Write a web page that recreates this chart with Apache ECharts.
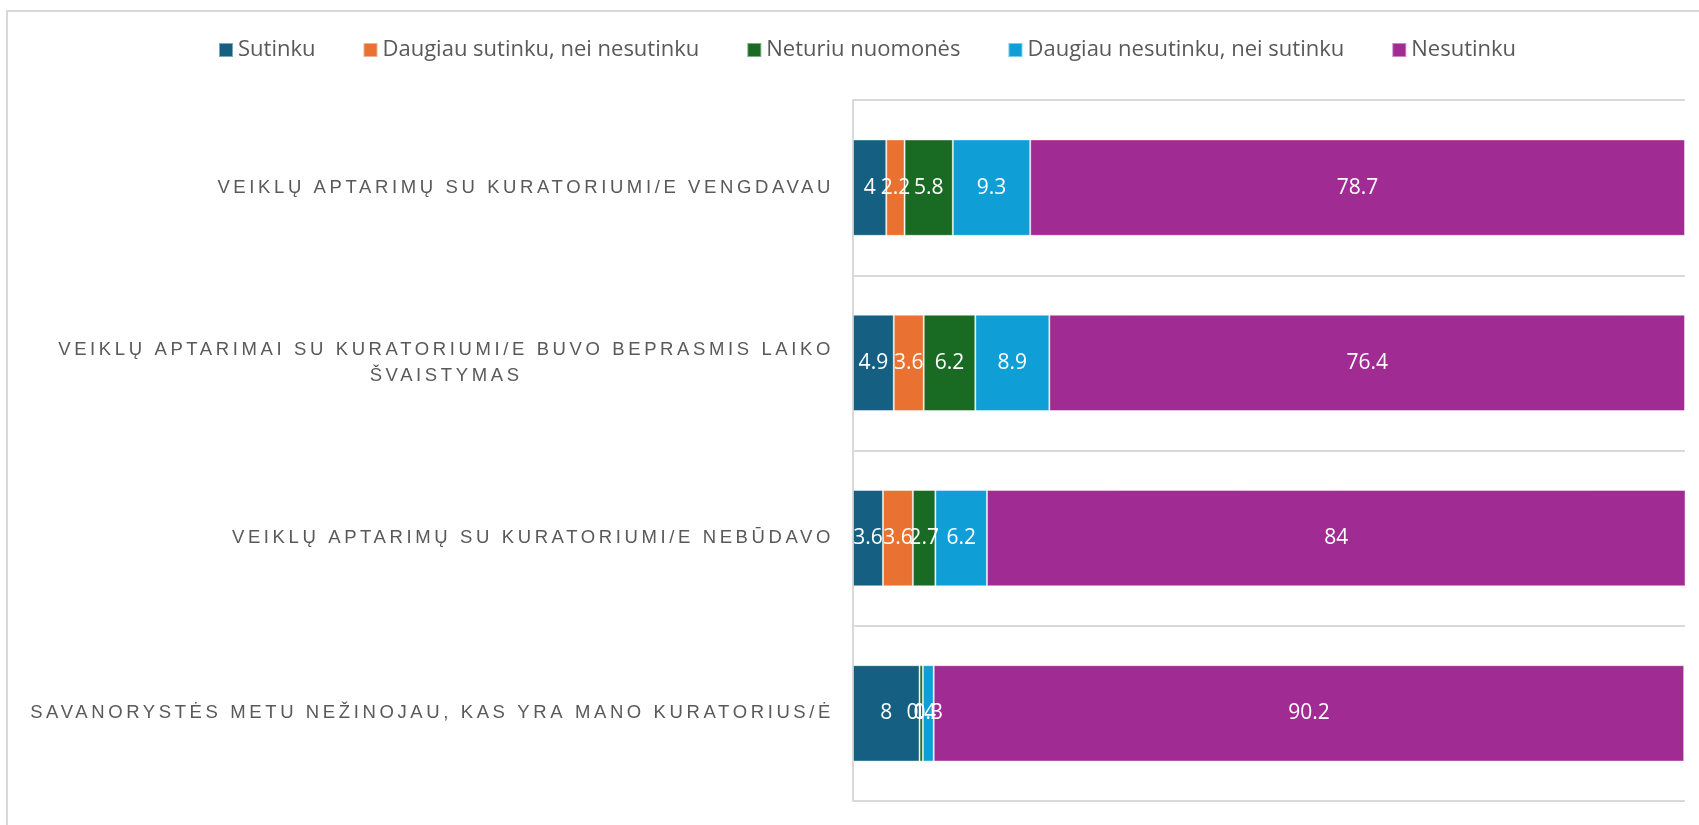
<!DOCTYPE html>
<html>
<head>
<meta charset="utf-8">
<script src="https://cdn.jsdelivr.net/npm/echarts@6/dist/echarts.min.js"></script>
<style>
  html, body { margin: 0; padding: 0; background: #ffffff; }
  #chart { width: 1699px; height: 825px; }
</style>
</head>
<body>
<div id="chart"></div>
<script>
// Statements (one horizontal 100% bar each)
const categories = [
  'VEIKLŲ APTARIMŲ SU KURATORIUMI/E VENGDAVAU',
  'VEIKLŲ APTARIMAI SU KURATORIUMI/E BUVO BEPRASMIS LAIKO ŠVAISTYMAS',
  'VEIKLŲ APTARIMŲ SU KURATORIUMI/E NEBŪDAVO',
  'SAVANORYSTĖS METU NEŽINOJAU, KAS YRA MANO KURATORIUS/Ė'
];

// Answer options
const seriesNames = [
  'Sutinku',
  'Daugiau sutinku, nei nesutinku',
  'Neturiu nuomonės',
  'Daugiau nesutinku, nei sutinku',
  'Nesutinku'
];

// Shares of answers, %, one value per statement
const sutinku          = [4,    4.9,  3.6, 8];
const daugiauSutinku   = [2.2,  3.6,  3.6, 0];
const neturiuNuomones  = [5.8,  6.2,  2.7, 0.4];
const daugiauNesutinku = [9.3,  8.9,  6.2, 1.3];
const nesutinku        = [78.7, 76.4, 84,  90.2];

const seriesValues = [sutinku, daugiauSutinku, neturiuNuomones, daugiauNesutinku, nesutinku];
const colors = ['#156082', '#E97132', '#196B24', '#0F9ED5', '#A02B93'];

// ---- category label typography (tracked capitals) ----
const CAT_FAMILY = 'Liberation Sans';
const CAT_SIZE = 18.5;
const CAT_FONT = CAT_SIZE + 'px "' + CAT_FAMILY + '"';
const TEXT_FAMILY = '"Open Sans", "Noto Sans", sans-serif';
const WRAP_CHARS = 56;
const LABEL_SPAN = 613;        // width the first statement occupies when tracked
const LABEL_GAP = 23;          // space between label end and the axis

const measureCtx = document.createElement('canvas').getContext('2d');
measureCtx.font = CAT_FONT;
const plainWidth = measureCtx.measureText(categories[0]).width;
const tracking = Math.max(0, (LABEL_SPAN - plainWidth) / (categories[0].length - 1));

// Canvas letter spacing, applied only to the category labels' font
const ctxProto = CanvasRenderingContext2D.prototype;
const baseFillText = ctxProto.fillText;
ctxProto.fillText = function (text, x, y, maxWidth) {
  if ('letterSpacing' in this) {
    this.letterSpacing = this.font.indexOf(CAT_FAMILY) >= 0 ? tracking + 'px' : '0px';
  }
  return maxWidth === undefined
    ? baseFillText.call(this, text, x, y)
    : baseFillText.call(this, text, x, y, maxWidth);
};

function wrapWords(str) {
  const words = str.split(' ');
  const lines = [];
  let cur = '';
  words.forEach(function (w) {
    const next = cur ? cur + ' ' + w : w;
    if (next.length > WRAP_CHARS && cur) { lines.push(cur); cur = w; }
    else { cur = next; }
  });
  if (cur) lines.push(cur);
  return lines;
}

function trackedWidth(line) {
  return measureCtx.measureText(line).width + tracking * line.length;
}

// Wrapped statements: lines centred under each other, block ending at the axis
const yAxisData = categories.map(function (name) {
  const lines = wrapWords(name);
  if (lines.length < 2) return name;
  const w = trackedWidth(lines[0]);
  return {
    value: name,
    textStyle: { align: 'center', padding: [0, w, 0, 0] }
  };
});

const chart = echarts.init(document.getElementById('chart'), null, { renderer: 'canvas' });

const series = seriesNames.map(function (name, i) {
  return {
    name: name,
    type: 'bar',
    stack: 'total',
    data: seriesValues[i],
    barCategoryGap: '45%',
    itemStyle: {
      color: colors[i],
      borderColor: 'rgba(255,255,255,0.45)',
      borderWidth: 1
    },
    label: {
      show: true,
      position: 'inside',
      color: '#ffffff',
      fontFamily: TEXT_FAMILY,
      fontSize: 21
    },
    emphasis: { disabled: true }
  };
});

chart.setOption({
  animation: false,
  color: colors,
  graphic: [{
    type: 'rect',
    shape: { x: 7, y: 11, width: 1800, height: 900 },
    style: { fill: 'none', stroke: '#d9d9d9', lineWidth: 2 },
    silent: true,
    z: -1
  }],
  legend: {
    data: seriesNames,
    left: 218,
    top: 39,
    padding: 0,
    icon: 'rect',
    itemWidth: 14,
    itemHeight: 14,
    itemGap: 47,
    textStyle: { color: '#595959', fontFamily: TEXT_FAMILY, fontSize: 22 }
  },
  grid: { left: 853, right: 14, top: 100, bottom: 24, containLabel: false },
  xAxis: {
    type: 'value',
    min: 0,
    max: 100,
    show: false
  },
  yAxis: {
    type: 'category',
    inverse: true,
    data: yAxisData,
    axisTick: { show: false },
    axisLine: { show: true, lineStyle: { color: '#d9d9d9', width: 2 } },
    splitLine: { show: true, lineStyle: { color: '#d9d9d9', width: 2 } },
    axisLabel: {
      interval: 0,
      margin: Math.round(LABEL_GAP - tracking),
      color: '#595959',
      fontFamily: CAT_FAMILY,
      fontSize: CAT_SIZE,
      lineHeight: 26,
      formatter: function (value) { return wrapWords(value).join('\n'); }
    }
  },
  series: series
});
</script>
</body>
</html>
